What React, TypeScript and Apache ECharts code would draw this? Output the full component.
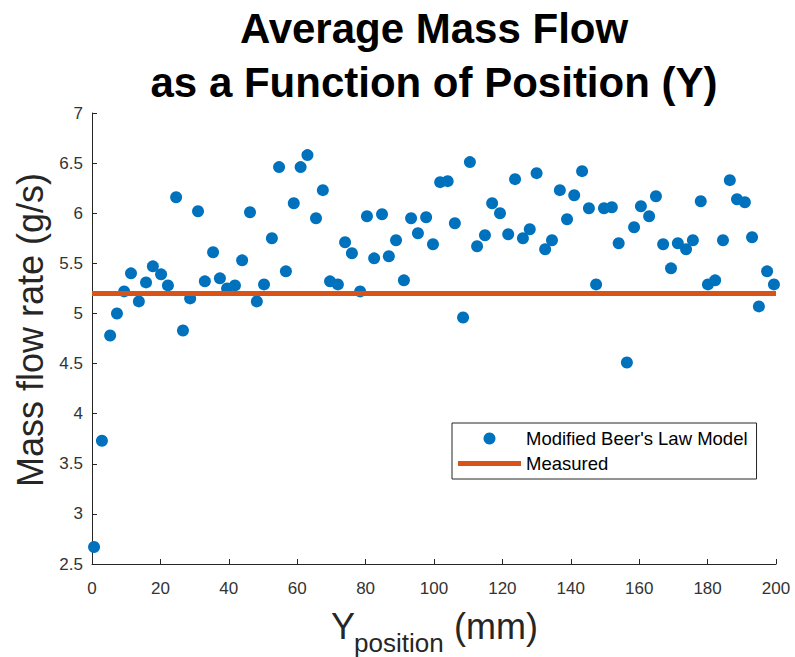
import React, { useEffect, useRef } from "react";
import * as echarts from "echarts";

const positions = [
  0.6, 2.9, 5.3, 7.3, 9.4, 11.4, 13.7, 15.8, 17.8, 20.2,
  22.2, 24.6, 26.6, 28.7, 31.0, 33.0, 35.4, 37.4, 39.5, 41.8,
  43.9, 46.2, 48.2, 50.3, 52.6, 54.7, 56.7, 59.0, 61.0, 63.0,
  65.5, 67.5, 69.6, 71.9, 74.0, 76.0, 78.4, 80.4, 82.5, 84.8,
  86.8, 88.9, 91.2, 93.3, 95.3, 97.7, 99.7, 101.8, 104.0, 106.1,
  108.5, 110.5, 112.6, 114.9, 117.0, 119.3, 121.7, 123.7, 126.0, 128.0,
  130.0, 132.5, 134.5, 136.8, 138.9, 141.0, 143.3, 145.3, 147.4, 149.7,
  152.0, 154.0, 156.4, 158.5, 160.5, 162.9, 164.9, 167.0, 169.3, 171.3,
  173.7, 175.7, 178.0, 180.1, 182.2, 184.5, 186.5, 188.6, 190.9, 193.0,
  195.0, 197.4, 199.4,
];

const modelFlow = [
  2.67, 3.73, 4.78, 5.0, 5.22, 5.4, 5.12, 5.31, 5.47, 5.39,
  5.28, 6.16, 4.83, 5.15, 6.02, 5.32, 5.61, 5.35, 5.25, 5.28,
  5.53, 6.01, 5.12, 5.29, 5.75, 6.46, 5.42, 6.1, 6.46, 6.58,
  5.95, 6.23, 5.32, 5.29, 5.71, 5.6, 5.22, 5.97, 5.55, 5.99,
  5.57, 5.73, 5.33, 5.95, 5.8, 5.96, 5.69, 6.31, 6.32, 5.9,
  4.96, 6.51, 5.67, 5.78, 6.1, 6.0, 5.79, 6.34, 5.75, 5.84,
  6.4, 5.64, 5.73, 6.23, 5.94, 6.18, 6.42, 6.05, 5.29, 6.05,
  6.06, 5.7, 4.51, 5.86, 6.07, 5.97, 6.17, 5.69, 5.45, 5.7,
  5.64, 5.73, 6.12, 5.29, 5.33, 5.73, 6.33, 6.14, 6.11, 5.76,
  5.07, 5.42, 5.29,
];

const measuredX = [0, 200];
const measuredY = [5.2, 5.2];

const seriesNames = ["Modified Beer's Law Model", "Measured"];
const titleLines = ["Average Mass Flow", "as a Function of Position (Y)"];

const FONT = "'Liberation Sans', Arial, Helvetica, sans-serif";
const AXIS_COLOR = "#262626";

export default function App() {
  const ref = useRef<HTMLDivElement>(null);

  useEffect(() => {
    document.body.style.margin = "0";
    if (!ref.current) return;
    const chart = echarts.init(ref.current, undefined, { renderer: "svg" });
    chart.setOption({
      animation: false,
      backgroundColor: "#ffffff",
      textStyle: { fontFamily: FONT },
      title: {
        text: titleLines.join("\n"),
        left: 434,
        top: 1,
        textAlign: "center",
        padding: 0,
        textStyle: {
          fontFamily: FONT,
          fontSize: 42,
          fontWeight: "bold",
          lineHeight: 54,
          color: "#000000",
        },
      },
      grid: { left: 92, right: 19, top: 113, bottom: 93, containLabel: false },
      xAxis: {
        type: "value",
        min: 0,
        max: 200,
        interval: 20,
        splitLine: { show: false },
        axisLine: { show: true, lineStyle: { color: AXIS_COLOR, width: 1 } },
        axisTick: { show: true, inside: true, length: 5, lineStyle: { color: AXIS_COLOR } },
        axisLabel: { color: "#333333", fontSize: 17, margin: 16, fontFamily: FONT },
      },
      yAxis: {
        type: "value",
        min: 2.5,
        max: 7,
        interval: 0.5,
        splitLine: { show: false },
        axisLine: { show: true, lineStyle: { color: AXIS_COLOR, width: 1 } },
        axisTick: { show: true, inside: true, length: 5, lineStyle: { color: AXIS_COLOR } },
        axisLabel: { color: "#333333", fontSize: 17, margin: 9, fontFamily: FONT },
      },
      legend: {
        orient: "vertical",
        left: 452,
        top: 423,
        padding: [6, 9, 6, 6],
        itemGap: 6,
        itemWidth: 63,
        itemHeight: 12,
        borderColor: AXIS_COLOR,
        borderWidth: 1,
        backgroundColor: "#ffffff",
        borderRadius: 0,
        textStyle: { fontSize: 18.5, lineHeight: 19, color: "#000000", fontFamily: FONT },
        data: [
          { name: seriesNames[0], icon: "circle" },
          { name: seriesNames[1], icon: "path://M0,0 L63,0 L63,5 L0,5 Z" },
        ],
      },
      series: [
        {
          name: seriesNames[0],
          type: "scatter",
          symbol: "circle",
          symbolSize: 12,
          itemStyle: { color: "#0072BD", opacity: 1 },
          data: positions.map((x, i) => [x, modelFlow[i]]),
          z: 2,
        },
        {
          name: seriesNames[1],
          type: "line",
          showSymbol: false,
          symbol: "none",
          lineStyle: { color: "#D95319", width: 5 },
          itemStyle: { color: "#D95319" },
          data: measuredX.map((x, i) => [x, measuredY[i]]),
          z: 3,
        },
      ],
      graphic: [
        {
          type: "text",
          x: 30.5,
          y: 330,
          rotation: Math.PI / 2,
          style: {
            text: "Mass flow rate (g/s)",
            fontFamily: FONT,
            fontSize: 36,
            fill: "#262626",
            align: "center",
            verticalAlign: "middle",
          },
        },
        {
          type: "text",
          x: 331,
          y: 626,
          style: {
            text: "Y",
            fontFamily: FONT,
            fontSize: 36,
            fill: "#262626",
            align: "left",
            verticalAlign: "middle",
          },
        },
        {
          type: "text",
          x: 354,
          y: 643,
          style: {
            text: "position",
            fontFamily: FONT,
            fontSize: 26,
            fill: "#262626",
            align: "left",
            verticalAlign: "middle",
          },
        },
        {
          type: "text",
          x: 454,
          y: 626,
          style: {
            text: "(mm)",
            fontFamily: FONT,
            fontSize: 36,
            fill: "#262626",
            align: "left",
            verticalAlign: "middle",
          },
        },
      ],
    });
    return () => chart.dispose();
  }, []);

  return (
    <div
      ref={ref}
      style={{ position: "absolute", left: 0, top: 0, width: 795, height: 657 }}
    />
  );
}
